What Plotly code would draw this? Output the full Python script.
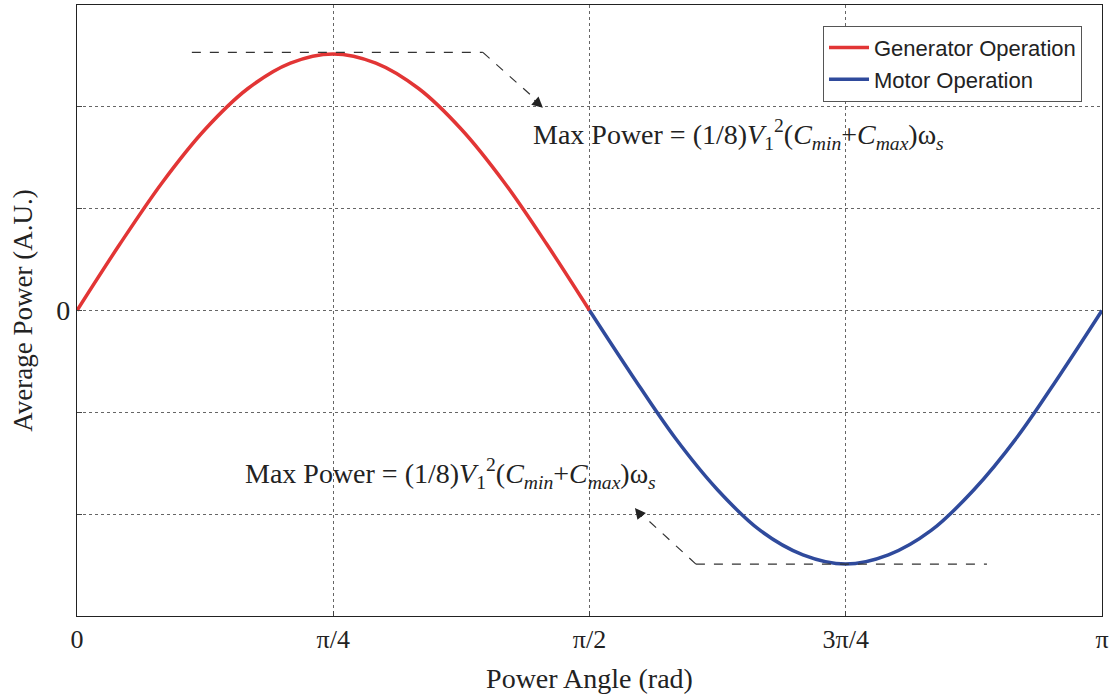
import plotly.graph_objects as go

# power angle (rad) and average power (A.U.)
gen_angle = [0.0, 0.131, 0.262, 0.393, 0.524, 0.654, 0.785, 0.916, 1.047, 1.178, 1.309, 1.440, 1.571]
gen_power = [0.0, 0.65, 1.26, 1.78, 2.18, 2.43, 2.52, 2.43, 2.18, 1.78, 1.26, 0.65, 0.0]

mot_angle = [1.571, 1.702, 1.833, 1.963, 2.094, 2.225, 2.356, 2.487, 2.618, 2.749, 2.880, 3.011, 3.1416]
mot_power = [0.0, -0.64, -1.25, -1.76, -2.16, -2.40, -2.49, -2.40, -2.16, -1.76, -1.25, -0.64, 0.0]

x_ticks = [0, 0.7854, 1.5708, 2.3562, 3.1416]
x_labels = ['0', 'π/4', 'π/2', '3π/4', 'π']
y_ticks = [-2, -1, 0, 1, 2]
y_labels = ['', '', '0', '', '']

max_text = 'Max Power = (1/8)<i>V</i><sub>1</sub><sup>2</sup>(<i>C<sub>min</sub></i>+<i>C<sub>max</sub></i>)ω<sub><i>s</i></sub>'

serif = 'Liberation Serif, Times New Roman, serif'
ink = '#222'

fig = go.Figure()
fig.add_trace(go.Scatter(x=gen_angle, y=gen_power, mode='lines', name='Generator Operation',
                         line=dict(color='#e23535', width=3.5, shape='spline')))
fig.add_trace(go.Scatter(x=mot_angle, y=mot_power, mode='lines', name='Motor Operation',
                         line=dict(color='#2f4a9c', width=3.5, shape='spline')))

# dashed leader lines
dash = dict(color='#333', width=1.2, dash='dash')
fig.add_shape(type='line', x0=0.352, y0=2.535, x1=1.244, y1=2.535, line=dash)
fig.add_shape(type='line', x0=1.244, y0=2.535, x1=1.41, y1=2.06, line=dash)
fig.add_shape(type='line', x0=1.897, y0=-2.49, x1=2.789, y1=-2.49, line=dash)
fig.add_shape(type='line', x0=1.897, y0=-2.49, x1=1.73, y1=-2.0, line=dash)

# arrow heads
fig.add_annotation(x=1.428, y=1.99, ax=-10, ay=-9, text='', showarrow=True,
                   arrowhead=2, arrowsize=1.8, arrowwidth=1.2, arrowcolor=ink)
fig.add_annotation(x=1.71, y=-1.94, ax=8, ay=10, text='', showarrow=True,
                   arrowhead=2, arrowsize=1.8, arrowwidth=1.2, arrowcolor=ink)

fig.add_annotation(x=1.39, y=1.73, text=max_text, showarrow=False, xanchor='left',
                   font=dict(family=serif, size=28, color=ink))
fig.add_annotation(x=0.509, y=-1.60, text=max_text, showarrow=False, xanchor='left',
                   font=dict(family=serif, size=28, color=ink))

fig.update_xaxes(range=[0, 3.1416], tickvals=x_ticks, ticktext=x_labels, automargin=False,
                 showgrid=True, gridcolor='#666', griddash='dot', gridwidth=1,
                 showline=True, mirror=True, linecolor=ink, linewidth=1.2,
                 ticks='inside', ticklen=5, tickcolor='#444', zeroline=False,
                 tickfont=dict(family=serif, size=26, color=ink),
                 title=dict(text='Power Angle (rad)', font=dict(family=serif, size=28, color=ink)))
fig.update_yaxes(range=[-3, 3], tickvals=y_ticks, ticktext=y_labels, automargin=False,
                 showgrid=True, gridcolor='#666', griddash='dot', gridwidth=1,
                 showline=True, mirror=True, linecolor=ink, linewidth=1.2,
                 ticks='inside', ticklen=5, tickcolor='#444', zeroline=False,
                 tickfont=dict(family=serif, size=28, color=ink),
                 title=dict(text='Average Power (A.U.)', font=dict(family=serif, size=27, color=ink)))

fig.update_layout(
    width=1112, height=694,
    margin=dict(l=77, r=10, t=5, b=78),
    plot_bgcolor='white', paper_bgcolor='white',
    legend=dict(x=0.9805, y=0.966, xanchor='right', yanchor='top',
                bordercolor='#555', borderwidth=1, bgcolor='white',
                font=dict(family='Liberation Sans, Arial, sans-serif', size=22, color=ink),
                tracegroupgap=0, itemwidth=40),
)

# page body has a default 8px margin, drop it so the figure fills the window
fig.write_html("out.html", config={'displayModeBar': False},
               post_script="document.body.style.margin='0';")
